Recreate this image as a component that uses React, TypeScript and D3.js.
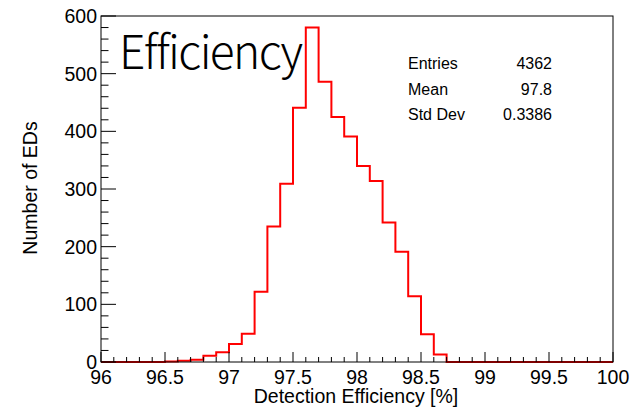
import React from "react";
import * as d3 from "d3";

const binLow: number[] = [96.5, 96.6, 96.7, 96.8, 96.9, 97.0, 97.1, 97.2, 97.3, 97.4, 97.5, 97.6, 97.7, 97.8, 97.9, 98.0, 98.1, 98.2, 98.3, 98.4, 98.5, 98.6];
const counts: number[] = [1, 2, 4, 11, 17, 31, 49, 122, 235, 309, 441, 580, 486, 425, 391, 340, 314, 242, 191, 114, 48, 13];
const xTickLabels: number[] = [96, 96.5, 97, 97.5, 98, 98.5, 99, 99.5, 100];
const yTickLabels: number[] = [0, 100, 200, 300, 400, 500, 600];
const statNames: string[] = ["Entries", "Mean", "Std Dev"];
const statValues: string[] = ["4362", "97.8", "0.3386"];

const W = 634, H = 409;
const L = 101, R = 613, T = 16, B = 362;
const BW = 0.1;

export default function App() {
  const x = d3.scaleLinear().domain([96, 100]).range([L, R]);
  const y = d3.scaleLinear().domain([0, 600]).range([B, T]);

  const nb = Math.round((100 - 96) / BW);
  const vals: number[] = new Array(nb).fill(0);
  binLow.forEach((b, i) => {
    const k = Math.round((b - 96) / BW);
    vals[k] = counts[i];
  });
  const pts: [number, number][] = [[96, 0]];
  vals.forEach((v, k) => {
    const lo = 96 + k * BW;
    pts.push([lo, v]);
    pts.push([lo + BW, v]);
  });
  pts.push([100, 0]);
  const line = d3.line<[number, number]>().x(d => x(d[0])).y(d => y(d[1]));

  const xMinor = d3.range(0, 41).map(i => 96 + i * 0.1);
  const yMinor = d3.range(0, 31).map(i => i * 20);
  const font = "'Liberation Sans', Arial, Helvetica, sans-serif";

  return (
    <svg width={W} height={H} style={{ position: "absolute", left: 0, top: 0, background: "#fff" }} fontFamily={font}>
      <rect x={0} y={0} width={W} height={H} fill="#fff" />
      <path d={line(pts) || ""} fill="none" stroke="#ff0000" strokeWidth={2} />
      <rect x={L} y={T} width={R - L} height={B - T} fill="none" stroke="#000" strokeWidth={1} />
      {xMinor.map((v, i) => (
        <line key={"xm" + i} x1={x(v)} x2={x(v)} y1={B} y2={B - (i % 5 === 0 ? 10 : 5)} stroke="#000" strokeWidth={1} />
      ))}
      {xTickLabels.map(v => (
        <text key={"xl" + v} x={x(v)} y={384} fontSize={19.5} textAnchor="middle">{v}</text>
      ))}
      {yMinor.map((v, i) => (
        <line key={"ym" + i} x1={L} x2={L + (i % 5 === 0 ? 15 : 7.5)} y1={y(v)} y2={y(v)} stroke="#000" strokeWidth={1} />
      ))}
      {yTickLabels.map(v => (
        <text key={"yl" + v} x={97} y={y(v) + 7} fontSize={19.5} textAnchor="end">{v}</text>
      ))}
      <text x={356} y={403} fontSize={19.5} textAnchor="middle">Detection Efficiency [%]</text>
      <text transform={`translate(37,188) rotate(-90)`} fontSize={19.5} textAnchor="middle">Number of EDs</text>
      <text x={119} y={69} fontSize={46} fontFamily="'Noto Sans CJK JP', 'Noto Sans', sans-serif" fontWeight={300}
        style={{ fontVariantLigatures: "none" }} textLength={184} lengthAdjust="spacing">Efficiency</text>
      {statNames.map((n, i) => (
        <g key={"st" + i}>
          <text x={408} y={69 + i * 25.5} fontSize={16}>{n}</text>
          <text x={552} y={69 + i * 25.5} fontSize={16} textAnchor="end">{statValues[i]}</text>
        </g>
      ))}
    </svg>
  );
}
